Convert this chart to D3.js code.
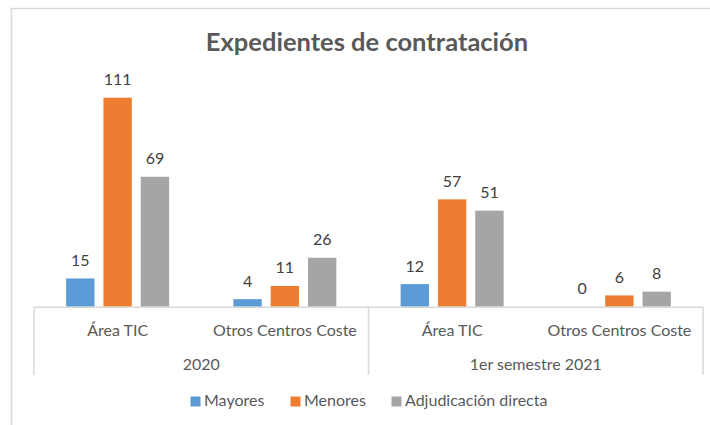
<!DOCTYPE html>
<html>
<head>
<meta charset="utf-8">
<script src="https://cdn.jsdelivr.net/npm/d3@7"></script>
<style>
  body { margin: 0; background: #fff; }
  text { font-family: Lato, "Open Sans", sans-serif; }
</style>
</head>
<body>
<div class="chart-container"></div>
<script>
var groups = ['2020', '1er semestre 2021'];
var subcats = ['Área TIC', 'Otros Centros Coste'];
var seriesNames = ['Mayores', 'Menores', 'Adjudicación directa'];
var colors = ['#5B9BD5', '#ED7D31', '#A5A5A5'];

// one array per series, in order: 2020 Área TIC, 2020 Otros, 2021 Área TIC, 2021 Otros
var mayores = [15, 4, 12, 0];
var menores = [111, 11, 57, 6];
var adjudicacion = [69, 26, 51, 8];
var seriesValues = [mayores, menores, adjudicacion];

var width = 710;
var height = 425;
var plot = {left: 34, right: 703, base: 306.7};

var cats = [];
groups.forEach(g => subcats.forEach(s => cats.push(g + '|' + s)));

var x = d3.scaleBand()
  .domain(cats)
  .range([plot.left, plot.right]);

var xs = d3.scaleBand()
  .domain(seriesNames)
  .range([-51.5, 51.5])
  .paddingInner(0.24);

var y = d3.scaleLinear()
  .domain([0, 120])
  .range([plot.base, plot.base - 120 * 1.883]);

var svg = d3.select('.chart-container').append('svg')
  .attr('width', width)
  .attr('height', height);

// chart area border (left and top only visible)
svg.append('path')
  .attr('d', 'M11.5,425V8.5H710')
  .attr('fill', 'none')
  .attr('stroke', '#D9D9D9')
  .attr('stroke-width', 1.5);

svg.append('text')
  .attr('x', 367)
  .attr('y', 51)
  .attr('text-anchor', 'middle')
  .attr('fill', '#595959')
  .style('font-size', '25.5px')
  .style('font-weight', 'bold')
  .text('Expedientes de contratación');

// bars
seriesNames.forEach(function(name, si) {
  var data = seriesValues[si].map((v, i) => ({cat: cats[i], value: v}));
  var g = svg.append('g').attr('class', 'series-' + si);
  g.selectAll('rect')
    .data(data)
    .enter().append('rect')
      .attr('x', d => x(d.cat) + x.bandwidth() / 2 + xs(name))
      .attr('y', d => y(d.value))
      .attr('width', xs.bandwidth())
      .attr('height', d => y(0) - y(d.value))
      .attr('fill', colors[si]);
  g.selectAll('text')
    .data(data)
    .enter().append('text')
      .attr('x', d => x(d.cat) + x.bandwidth() / 2 + xs(name) + xs.bandwidth() / 2)
      .attr('y', d => y(d.value) - 12.5)
      .attr('text-anchor', 'middle')
      .attr('fill', '#404040')
      .style('font-size', '16px')
      .text(d => d.value);
});

// category axis
var axis = svg.append('g').attr('class', 'axis');
axis.append('line')
  .attr('x1', plot.left).attr('x2', plot.right)
  .attr('y1', plot.base + 0.5).attr('y2', plot.base + 0.5)
  .attr('stroke', '#D9D9D9').attr('stroke-width', 1.5);

var groupEdges = [plot.left].concat(groups.map((g, i) => x(cats[(i + 1) * subcats.length - 1]) + x.bandwidth()));
axis.selectAll('.sep')
  .data(groupEdges)
  .enter().append('line')
    .attr('class', 'sep')
    .attr('x1', d => d).attr('x2', d => d)
    .attr('y1', plot.base).attr('y2', 375)
    .attr('stroke', '#D9D9D9').attr('stroke-width', 1.5);

axis.selectAll('.sub')
  .data(cats)
  .enter().append('text')
    .attr('class', 'sub')
    .attr('x', d => x(d) + x.bandwidth() / 2)
    .attr('y', 336)
    .attr('text-anchor', 'middle')
    .attr('fill', '#595959')
    .style('font-size', '16px')
    .text(d => d.split('|')[1]);

axis.selectAll('.grp')
  .data(groups)
  .enter().append('text')
    .attr('class', 'grp')
    .attr('x', (d, i) => x(cats[i * subcats.length]) + x.bandwidth())
    .attr('y', 370)
    .attr('text-anchor', 'middle')
    .attr('fill', '#595959')
    .style('font-size', '16px')
    .text(d => d);

// legend
var legendX = [190.5, 290.5, 391.5];
var legend = svg.append('g').attr('class', 'legend');
seriesNames.forEach(function(name, i) {
  legend.append('rect')
    .attr('x', legendX[i]).attr('y', 396.5)
    .attr('width', 10).attr('height', 10)
    .attr('fill', colors[i]);
  legend.append('text')
    .attr('x', legendX[i] + 13.5)
    .attr('y', 406)
    .attr('fill', '#595959')
    .style('font-size', '16px')
    .text(name);
});
</script>
</body>
</html>
